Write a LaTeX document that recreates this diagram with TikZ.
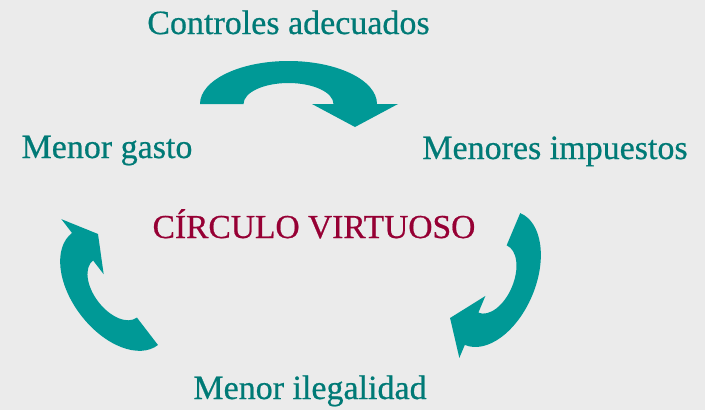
\documentclass[tikz,border=0pt]{standalone}
\usepackage{fontspec}
\setmainfont{Liberation Serif}
\newfontfamily\lblfont[FakeBold=0.6]{Liberation Serif}
\definecolor{bgray}{RGB}{235,235,235}
\definecolor{arrowteal}{RGB}{0,153,150}
\definecolor{textteal}{RGB}{0,122,118}
\definecolor{crimson}{RGB}{150,0,52}
\tikzset{
  lbl/.style={anchor=base,inner sep=0pt,text=textteal,font=\lblfont\fontsize{34}{40}\selectfont},
  ttl/.style={anchor=base,inner sep=0pt,text=crimson,font=\lblfont\fontsize{33.5}{40}\selectfont},
  arrowfill/.style={fill=arrowteal,draw=none}
}
% #1 center, #2 rotation, #3 Ro, #4 Ri, #5 outer barb, #6 inner barb, #7 tip along, #8 tip depth
\newcommand\curvedarrowshape[8]{%
  \begin{scope}[shift={#1},rotate=#2]
    \fill[arrowfill] (-#3,0) arc[start angle=180,end angle=0,x radius=#3,y radius=43]
      -- (#5,0) -- (#7,-#8) -- (#6,0) -- (#4,0)
      arc[start angle=0,end angle=180,x radius=#4,y radius=21] -- cycle;
  \end{scope}}
\begin{document}
\begin{tikzpicture}[x=1pt,y=1pt]
  \fill[bgray] (0,0) rectangle (705,-410);
  \useasboundingbox (0,0) rectangle (705,-410);
  \curvedarrowshape{(288.5,-104)}{0}{88.5}{45}{109.5}{23.5}{66.5}{23}
  \curvedarrowshape{(492.5,-279)}{-112.8}{71.5}{36.5}{85.6}{18.4}{52.4}{24}
  \curvedarrowshape{(115,-289)}{127.5}{70.6}{36}{88}{18.6}{54}{20}
  \node[lbl] (controles) at (288.5,-34) {Controles adecuados};
  \node[ttl] (titulo) at (314,-238) {CÍRCULO VIRTUOSO};
  \node[lbl] (ilegalidad) at (310,-399) {Menor ilegalidad};
  \node[lbl] (gasto) at (107,-158) {Menor gasto};
  \node[lbl] (impuestos) at (555,-159) {Menores impuestos};
\end{tikzpicture}
\end{document}
